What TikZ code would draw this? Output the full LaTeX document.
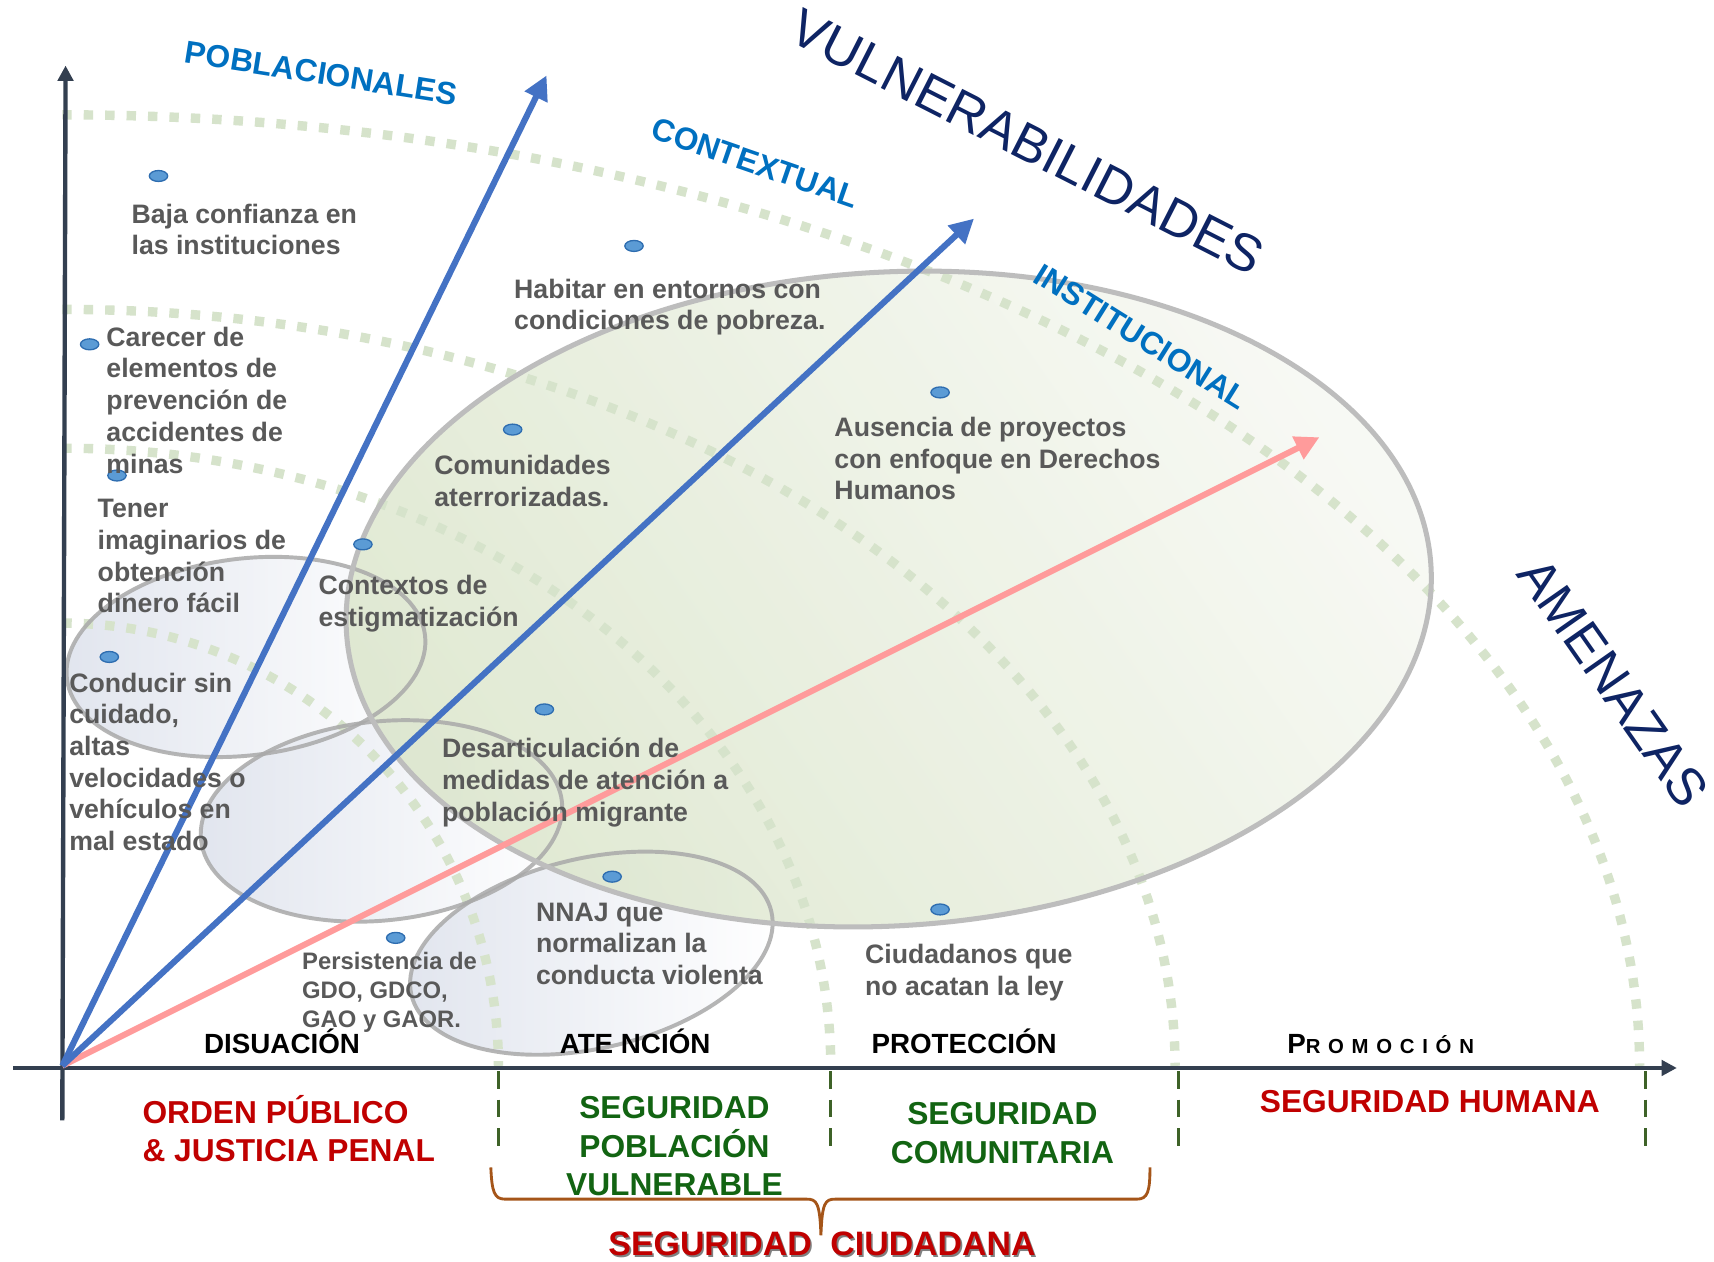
\documentclass[tikz,border=0pt]{standalone}
\usepackage{fontspec}
\setmainfont{Liberation Sans}
\newfontfamily\spacedfont[LetterSpace=38]{Liberation Sans}
\usetikzlibrary{arrows.meta,shapes.geometric}
\definecolor{cTxt}{HTML}{595959}
\definecolor{cRay}{HTML}{4472C4}
\definecolor{cCat}{HTML}{0070C0}
\definecolor{cNavy}{HTML}{0E2464}
\definecolor{cPink}{HTML}{FF9B9B}
\definecolor{cAxis}{HTML}{333F50}
\definecolor{cArc}{RGB}{214,227,203}
\definecolor{cEllA}{HTML}{D9E4C8}
\definecolor{cEllB}{HTML}{F6F8F2}
\definecolor{cEllBd}{HTML}{BDBDBD}
\definecolor{cSmall}{HTML}{E1E5EE}
\definecolor{cSmallBd}{HTML}{A9A9A9}
\definecolor{cDot}{HTML}{5B9BD5}
\definecolor{cDotBd}{HTML}{2E6DB0}
\definecolor{cTick}{RGB}{62,98,40}
\definecolor{cRed}{HTML}{C00000}
\definecolor{cGreen}{RGB}{18,100,18}
\definecolor{cBrace}{RGB}{165,85,25}
\tikzset{
  gtext/.style={text=cTxt, font=\bfseries\fontsize{12.2}{14.5}\selectfont, align=left, anchor=west, inner sep=0pt},
  hdr/.style={text=black, font=\bfseries\fontsize{12.7}{15}\selectfont, anchor=base, inner sep=0pt},
  redlab/.style={text=cRed, font=\bfseries\fontsize{14.5}{17.5}\selectfont, inner sep=0pt},
  grnlab/.style={text=cGreen, font=\bfseries\fontsize{14.5}{17.5}\selectfont, align=center, inner sep=0pt},
  catlab/.style={text=cCat, font=\bfseries\fontsize{14.5}{17}\selectfont, inner sep=0pt},
  biglab/.style={text=cNavy, font=\fontsize{24}{29}\selectfont, inner sep=0pt},
  dotmark/.style={ellipse, fill=cDot, draw=cDotBd, line width=0.6pt, minimum width=8.4pt, minimum height=5pt, inner sep=0pt},
  arcline/.style={draw=cArc, line width=4.3pt, dash pattern=on 4.3pt off 5.5pt},
  tickline/.style={draw=cTick, line width=1.5pt, dash pattern=on 8pt off 5pt},
  axisline/.style={draw=cAxis, line width=2pt},
  rayblue/.style={draw=cRay, line width=2.8pt, -{Triangle[length=11pt,width=11pt]}},
  raypink/.style={draw=cPink, line width=2.8pt, -{Triangle[length=11pt,width=11pt]}},
  smallfill/.style={ellipse, inner sep=0pt, draw=none, left color=cSmall, right color=white},
  smallbd/.style={ellipse, inner sep=0pt, draw=cSmallBd, draw opacity=0.85, line width=1.8pt, fill=none},
  bigfill/.style={ellipse, inner sep=0pt, draw=none, minimum width=497pt, minimum height=299pt,
     top color=cEllB, bottom color=cEllA, shading angle=-55, fill opacity=0.8},
  bigbd/.style={ellipse, inner sep=0pt, draw=cEllBd, line width=2.3pt, fill=none, minimum width=497pt, minimum height=299pt},
  bracestyle/.style={draw=cBrace, line width=1.3pt}
}
\begin{document}
\begin{tikzpicture}[x=0.5pt,y=-0.5pt]
\useasboundingbox (0,0) rectangle (1568,1154);
\fill[white] (0,0) rectangle (1568,1154);

% small ellipses (fills)
\node[smallfill, minimum width=165pt, minimum height=90pt, rotate=7] (eA) at (225,601) {};
\node[smallfill, minimum width=166pt, minimum height=91pt, rotate=6] (eB) at (349,751) {};
\node[smallfill, minimum width=169pt, minimum height=87pt, rotate=13] (eC) at (541,872) {};
% big ellipse fill
\node[bigfill, rotate=3.5] (eE) at (813,548) {};

% dotted arcs
\draw[arcline] plot[domain=90:0, samples=120] ({57+1443*cos(\x)},{975-870*sin(\x)});
\draw[arcline] plot[domain=90:0, samples=100] ({57+1018*cos(\x)},{975-692*sin(\x)});
\draw[arcline] plot[domain=90:0, samples=90] ({57+703*cos(\x)},{975-565*sin(\x)});
\draw[arcline] plot[domain=90:0, samples=80] ({57+399*cos(\x)},{975-405*sin(\x)});

% borders
\node[smallbd, minimum width=165pt, minimum height=90pt, rotate=7] (eAb) at (eA) {};
\node[smallbd, minimum width=166pt, minimum height=91pt, rotate=6] (eBb) at (eB) {};
\node[smallbd, minimum width=169pt, minimum height=87pt, rotate=13] (eCb) at (eC) {};
\node[bigbd, rotate=3.5] (eEb) at (eE) {};

% coordinates
\coordinate (O) at (57,975);
\coordinate (vbot) at (57,1025);
\coordinate (vtop) at (60,60);
\coordinate (hleft) at (12,977);
\coordinate (hright) at (1534,977);
\coordinate (r1) at (500,69);
\coordinate (r2) at (891,200);
\coordinate (r3) at (1207,400);
\coordinate (k1a) at (456,980); \coordinate (k1b) at (456,1050);
\coordinate (k2a) at (760,980); \coordinate (k2b) at (760,1050);
\coordinate (k3a) at (1078,980); \coordinate (k3b) at (1078,1050);
\coordinate (k4a) at (1505,980); \coordinate (k4b) at (1505,1050);

% ticks
\draw[tickline] (k1a) -- (k1b);
\draw[tickline] (k2a) -- (k2b);
\draw[tickline] (k3a) -- (k3b);
\draw[tickline] (k4a) -- (k4b);

% axes
\draw[axisline, -{Triangle[length=7pt,width=7pt]}] (vbot) -- (vtop);
\draw[axisline, line width=2.2pt, -{Triangle[length=7pt,width=7pt]}] (hleft) -- (hright);

% rays
\draw[raypink] (O) -- (r3);
\draw[rayblue] (O) -- (r1);
\draw[rayblue] (O) -- (r2);

% dots
\node[dotmark] (d1) at (145,161) {};
\node[dotmark] (d2) at (82,315) {};
\node[dotmark] (d3) at (107,435) {};
\node[dotmark] (d4) at (100,601) {};
\node[dotmark] (d5) at (332,498) {};
\node[dotmark] (d6) at (469,393) {};
\node[dotmark] (d7) at (580,225) {};
\node[dotmark] (d8) at (860,359) {};
\node[dotmark] (d9) at (498,649) {};
\node[dotmark] (d10) at (560,802) {};
\node[dotmark] (d11) at (362,858) {};
\node[dotmark] (d12) at (860,832) {};

% gray texts
\node[gtext] (t1) at (120,210) {Baja confianza en\\las instituciones};
\node[gtext] (t2) at (97,366) {Carecer de\\elementos de\\prevención de\\accidentes de\\minas};
\node[gtext] (t3) at (89,509) {Tener\\imaginarios de\\obtención\\dinero fácil};
\node[gtext] (t4) at (63,697) {Conducir sin\\cuidado,\\altas\\velocidades o\\vehículos en\\mal estado};
\node[gtext] (t5) at (470,281) {Habitar en entornos con\\condiciones de pobreza.};
\node[gtext] (t6) at (397,440) {Comunidades\\aterrorizadas.};
\node[gtext] (t7) at (291,552.5) {Contextos de\\estigmatización};
\node[gtext] (t8) at (763,419.5) {Ausencia de proyectos\\con enfoque en Derechos\\Humanos};
\node[gtext] (t9) at (404,716) {Desarticulación de\\medidas de atención a\\población migrante};
\node[gtext] (t10) at (490,863.5) {NNAJ que\\normalizan la\\conducta violenta};
\node[gtext] (t11) at (791,889.5) {Ciudadanos que\\no acatan la ley};
\node[gtext, font=\bfseries\fontsize{10.9}{13.2}\selectfont] (t12) at (276,907.5) {Persistencia de\\GDO, GDCO,\\GAO y GAOR.};

% category labels
\node[catlab, rotate=-9] (c1) at (294,67) {POBLACIONALES};
\node[catlab, rotate=-19] (c2) at (691,149) {CONTEXTUAL};
\node[catlab, rotate=-32] (c3) at (1044,308) {INSTITUCIONAL};
\node[biglab, rotate=-27] (c4) at (940,130) {VULNERABILIDADES};
\node[biglab, rotate=-55] (c5) at (1476,624) {AMENAZAS};

% headers
\node[hdr] (h1) at (258,964) {DISUACIÓN};
\node[hdr] (h2) at (581,964) {ATE NCIÓN};
\node[hdr] (h3) at (882,964) {PROTECCIÓN};
\node[hdr] (h4) at (1263,964) {P{\spacedfont\bfseries\fontsize{9.3}{11}\selectfont ROMOCIÓN}};

% bottom labels
\node[redlab, align=left, anchor=west] (b1) at (130,1032.5) {ORDEN PÚBLICO\\\& JUSTICIA PENAL};
\node[grnlab] (b2) at (617,1048.5) {SEGURIDAD\\POBLACIÓN\\VULNERABLE};
\node[grnlab] (b3) at (917,1036.5) {SEGURIDAD\\COMUNITARIA};
\node[redlab] (b4) at (1308,1007.5) {SEGURIDAD HUMANA};

% brace
\coordinate (bL) at (449,1068);
\coordinate (bR) at (1052,1068);
\coordinate (bM) at (751,1130);
\draw[bracestyle] (bL) .. controls (450,1090) and (452,1097) .. (462,1097) -- (738,1097)
  .. controls (747,1097) and (750,1100) .. (bM)
  .. controls (752,1100) and (755,1097) .. (764,1097) -- (1040,1097)
  .. controls (1050,1097) and (1052,1090) .. (bR);

\node[redlab, text=black!50, font=\bfseries\fontsize{15.5}{18}\selectfont] (b5s) at (753.5,1139.5) {SEGURIDAD\hspace{0.55em}CIUDADANA};
\node[redlab, font=\bfseries\fontsize{15.5}{18}\selectfont] (b5) at (752,1138) {SEGURIDAD\hspace{0.55em}CIUDADANA};
\end{tikzpicture}
\end{document}
